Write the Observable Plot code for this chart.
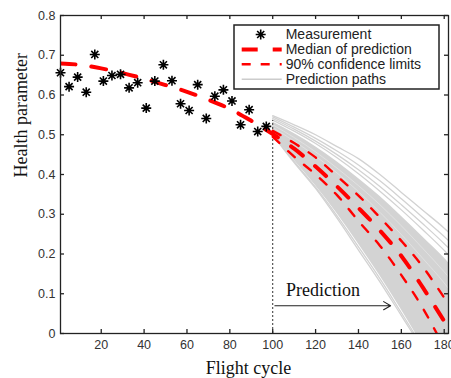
<!DOCTYPE html>
<html><head><meta charset="utf-8">
<script src="https://cdn.jsdelivr.net/npm/d3@7"></script>
<script src="https://cdn.jsdelivr.net/npm/@observablehq/plot@0.6"></script>
<style>
html,body{margin:0;padding:0;background:#fff;}
#chart{width:451px;height:378px;overflow:hidden;}
</style></head><body><div id="chart"></div>
<script>
// ---------- data ----------
const measX = [1,5,9,13,17,21,25,29,33,37,41,45,49,53,57,61,65,69,73,77,81,85,89,93,97];
const measY = [0.656,0.621,0.645,0.607,0.702,0.635,0.649,0.652,0.618,0.631,0.567,0.635,0.676,0.636,0.578,0.561,0.626,0.541,0.597,0.613,0.585,0.525,0.563,0.508,0.521];

const medianX = [1,10,20,30,40,50,60,70,80,90,100,110,120,130,140,150,160,170,180,183];
const medianY = [0.679,0.676,0.667,0.655,0.641,0.625,0.608,0.588,0.565,0.535,0.502,0.465,0.42,0.37,0.316,0.259,0.195,0.116,0.031,0.006];

const predX   = [100,110,120,130,140,150,160,170,180,183];
const upper90 = [0.51,0.479,0.443,0.396,0.347,0.292,0.233,0.168,0.09,0.066];
const lower90 = [0.495,0.445,0.40,0.348,0.283,0.221,0.147,0.064,-0.035,-0.065];

// dense part of the prediction paths (filled band)
const bandUpper = [0.532,0.503,0.47,0.432,0.39,0.345,0.295,0.243,0.19,0.172];
const bandLower = [0.50,0.436,0.372,0.302,0.225,0.145,0.06,-0.03,-0.12,-0.15];
// individual prediction paths outside the dense band
const outerPaths = [
  [0.548,0.525,0.500,0.470,0.440,0.400,0.355,0.310,0.265,0.250],
  [0.545,0.519,0.491,0.459,0.424,0.384,0.339,0.292,0.244,0.229],
  [0.541,0.514,0.484,0.450,0.412,0.370,0.324,0.276,0.226,0.210],
  [0.537,0.509,0.478,0.442,0.402,0.358,0.311,0.261,0.209,0.192],
  [0.50,0.43,0.365,0.29,0.21,0.13,0.045,-0.04,-0.13,-0.16],
  [0.50,0.433,0.368,0.296,0.218,0.138,0.052,-0.035,-0.125,-0.155]
];
// lighter gaps between paths inside the band
const innerPaths = [
  [0.525,0.493,0.457,0.416,0.372,0.324,0.271,0.214,0.155,0.136],
  [0.518,0.484,0.446,0.404,0.357,0.305,0.249,0.189,0.127,0.106]
];

const xTicks = [20,40,60,80,100,120,140,160,180];
const yTicks = [0,0.1,0.2,0.3,0.4,0.5,0.6,0.7,0.8];
const predictionStart = 100;
const predictionLineTop = 0.536;
const arrowFrom = 101, arrowTo = 155, arrowLevel = 0.07;
const annotationText = "Prediction";
const annotationX = 123.5, annotationY = 0.095;
const xLabel = "Flight cycle";
const yLabel = "Health parameter";
const legendLabels = ["Measurement","Median of prediction","90% confidence limits","Prediction paths"];

// ---------- layout ----------
const W = 451, H = 378, mL = 60, mR = 3, mT = 15, mB = 45;
const frameW = W - mL - mR, frameH = H - mT - mB;
const tickLen = 4;

const meas = measX.map((x,i)=>({x, y: measY[i]}));
const median = medianX.map((x,i)=>({x, y: medianY[i]}));
const band = predX.map((x,i)=>({x, y1: bandLower[i], y2: bandUpper[i]}));
const conf = [];
predX.forEach((x,i)=>{ conf.push({x, y: upper90[i], k: "u"}); conf.push({x, y: lower90[i], k: "l"}); });
const outer = [], inner = [];
outerPaths.forEach((p,j)=>p.forEach((y,i)=>outer.push({x: predX[i], y, k: j})));
innerPaths.forEach((p,j)=>p.forEach((y,i)=>inner.push({x: predX[i], y, k: j})));

const star8 = {
  draw(context, size) {
    const r = Math.sqrt(size / Math.PI), d = r * Math.SQRT1_2;
    context.moveTo(-r, 0); context.lineTo(r, 0);
    context.moveTo(0, -r); context.lineTo(0, r);
    context.moveTo(-d, -d); context.lineTo(d, d);
    context.moveTo(-d, d); context.lineTo(d, -d);
  }
};

const axisColor = "#222";
const svg = Plot.plot({
  width: W, height: H,
  marginLeft: mL, marginRight: mR, marginTop: mT, marginBottom: mB,
  style: {fontFamily: "'Liberation Sans', Arial, sans-serif", fontSize: "12.5px", color: "#333", background: "#fff", overflow: "visible"},
  x: {domain: [1, 182]},
  y: {domain: [0, 0.8]},
  marks: [
    Plot.areaY(band, {x: "x", y1: "y1", y2: "y2", fill: "#d3d3d3", curve: "monotone-x", clip: true}),
    Plot.line(outer, {x: "x", y: "y", z: "k", stroke: "#d2d2d2", strokeWidth: 1.3, curve: "monotone-x", clip: true}),
    Plot.line(inner, {x: "x", y: "y", z: "k", stroke: "#e6e6e6", strokeWidth: 0.7, curve: "monotone-x", clip: true}),
    Plot.ruleX([predictionStart], {y1: 0, y2: predictionLineTop, stroke: "#333", strokeWidth: 1, strokeDasharray: "2,2"}),
    Plot.line(conf, {x: "x", y: "y", z: "k", stroke: "#ff0000", strokeWidth: 2.4, strokeDasharray: "9,12", curve: "monotone-x", clip: true}),
    Plot.line(median, {x: "x", y: "y", stroke: "#ff0000", strokeWidth: 4, strokeDasharray: "15,16", curve: "monotone-x", clip: true}),
    Plot.dot(meas, {x: "x", y: "y", symbol: star8, r: 5, fill: "none", stroke: "#000", strokeWidth: 1.6}),
    Plot.arrow([{x1: arrowFrom, x2: arrowTo, y: arrowLevel}], {x1: "x1", x2: "x2", y1: "y", y2: "y", stroke: "#222", strokeWidth: 1.1, headLength: 11}),
    Plot.text([annotationText], {x: annotationX, y: annotationY, text: d=>d, lineAnchor: "bottom", textAnchor: "middle", fontFamily: "'Liberation Serif', 'Times New Roman', serif", fontSize: 18, fill: "#111"}),
    // inward ticks
    Plot.tickX(xTicks, {x: d=>d, insetTop: frameH - tickLen, stroke: axisColor, strokeWidth: 1.3}),
    Plot.tickX(xTicks, {x: d=>d, insetBottom: frameH - tickLen, stroke: axisColor, strokeWidth: 1.3}),
    Plot.tickY(yTicks, {y: d=>d, insetRight: frameW - tickLen, stroke: axisColor, strokeWidth: 1.3}),
    Plot.tickY(yTicks, {y: d=>d, insetLeft: frameW - tickLen, stroke: axisColor, strokeWidth: 1.3}),
    Plot.axisX(xTicks, {anchor: "bottom", tickSize: 0, tickPadding: 6.5, label: null, fill: "#333"}),
    Plot.axisY(yTicks, {anchor: "left", tickSize: 0, tickPadding: 5, label: null, fill: "#333", tickFormat: d => d === 0 ? "0" : d.toFixed(1)}),
    Plot.frame({stroke: axisColor, strokeWidth: 1.3}),
    Plot.text([xLabel], {frameAnchor: "bottom", dy: 40, dx: -6, lineAnchor: "bottom", fontFamily: "'Liberation Serif', 'Times New Roman', serif", fontSize: 18, fill: "#111"}),
    Plot.text([yLabel], {frameAnchor: "left", rotate: -90, dx: -34, dy: 3, lineAnchor: "bottom", fontFamily: "'Liberation Serif', 'Times New Roman', serif", fontSize: 18, fill: "#111"})
  ]
});

// ---------- legend ----------
const L = {x: 234, y: 25, w: 205, h: 64, rowY0: 34.5, rowDy: 14.9, symX0: 241.7, symX1: 281.7, textX: 285.7};
const g = d3.select(svg).append("g").attr("class", "legend").attr("text-anchor", "start");
g.append("rect").attr("x", L.x).attr("y", L.y).attr("width", L.w).attr("height", L.h)
  .attr("fill", "#fff").attr("stroke", "#222").attr("stroke-width", 1.5);
const legendStyles = [
  {type: "star"},
  {type: "line", stroke: "#ff0000", width: 4, dash: "16,15"},
  {type: "line", stroke: "#ff0000", width: 2.4, dash: "9,10"},
  {type: "line", stroke: "#cccccc", width: 1.5, dash: null}
];
legendLabels.forEach((label, i) => {
  const y = L.rowY0 + i * L.rowDy;
  const s = legendStyles[i];
  if (s.type === "star") {
    g.append("path").attr("d", d3.symbol().type(star8).size(Math.PI * 25)())
      .attr("transform", `translate(${(L.symX0 + L.symX1) / 2 - 1},${y})`)
      .attr("fill", "none").attr("stroke", "#000").attr("stroke-width", 1.6);
  } else {
    g.append("line").attr("x1", L.symX0).attr("x2", L.symX1).attr("y1", y).attr("y2", y)
      .attr("stroke", s.stroke).attr("stroke-width", s.width).attr("stroke-dasharray", s.dash);
  }
  g.append("text").attr("x", L.textX).attr("y", y).attr("dy", "0.35em")
    .attr("text-anchor", "start")
    .attr("font-family", "'Liberation Sans', Arial, sans-serif").attr("font-size", 14)
    .attr("fill", "#222").text(label);
});

document.getElementById("chart").appendChild(svg);
</script>
</body></html>
